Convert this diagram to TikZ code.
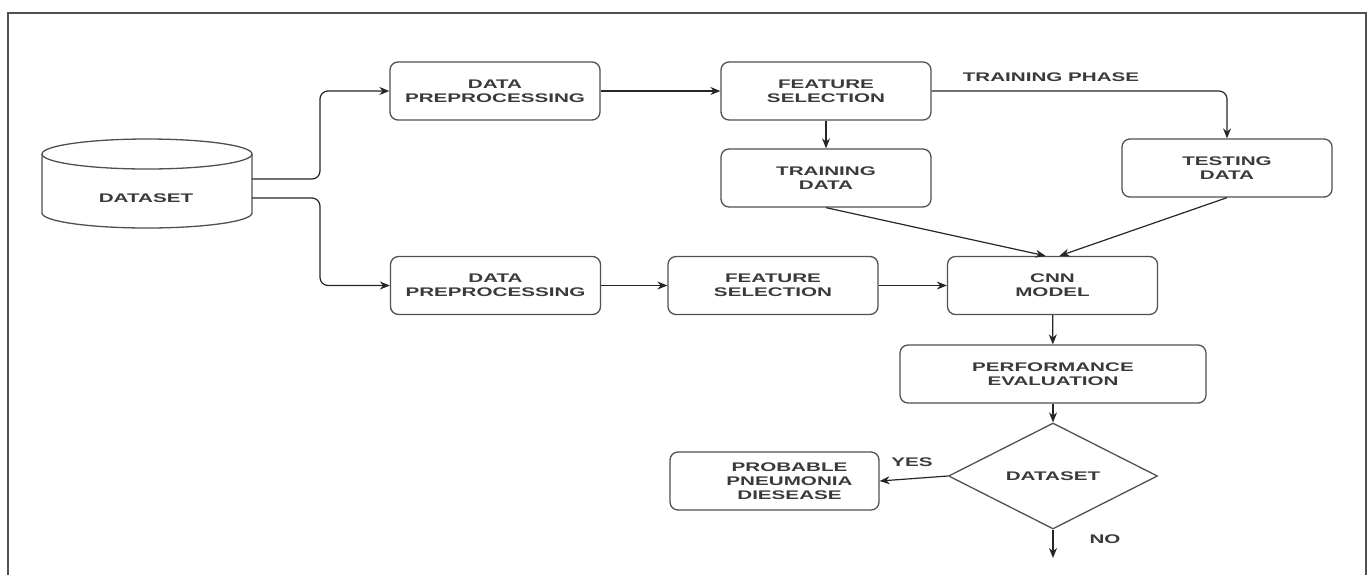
\documentclass[tikz,border=0pt]{standalone}
\usepackage{fontspec}
\usetikzlibrary{arrows.meta,shapes.geometric,calc}
\newfontfamily\dfont{Liberation Sans Bold}[FakeStretch=1.65]
\definecolor{txt}{HTML}{3A3A3A}
\definecolor{edge}{HTML}{505050}
\begin{document}
\begin{tikzpicture}[x=1pt,y=-1pt,
  every node/.style={font=\dfont\fontsize{12.5}{14}\selectfont, text=txt, align=center},
  box/.style={draw=edge, line width=1.3pt, rounded corners=8pt, minimum width=210pt, minimum height=58pt, inner sep=0pt},
  dia/.style={draw=edge, line width=1.3pt, diamond, aspect=1.97, minimum width=209pt, minimum height=106pt, inner sep=0pt},
  arr/.style={draw=black!85, line width=1.2pt, -{Stealth[length=10pt,width=8pt]}},
  lbl/.style={inner sep=0pt}]
\useasboundingbox (0,0) rectangle (1372,574);
% frame
\draw[edge, line width=2pt] (8,580) -- (8,13) -- (1366,13) -- (1366,580);
% cylinder
\node[minimum width=210pt, minimum height=89pt, inner sep=0pt] (ds) at (147,183.5) {};
\node[lbl] (dstxt) at (146,198) {DATASET};
\draw[edge, line width=1.3pt] (147,154) ellipse [x radius=105pt, y radius=15pt];
\draw[edge, line width=1.3pt] (42,154) -- (42,213) arc[start angle=180, end angle=360, x radius=105pt, y radius=15pt] -- (252,154);
\coordinate (dsU) at (252,179);
\coordinate (dsL) at (252,198);
% boxes
\node[box] (dp1) at (495,91) {DATA\\PREPROCESSING};
\node[box] (fs1) at (826,91) {FEATURE\\SELECTION};
\node[box] (trd) at (826,178) {TRAINING\\DATA};
\node[box] (tsd) at (1227,168) {TESTING\\DATA};
\node[box] (dp2) at (495.5,285.5) {DATA\\PREPROCESSING};
\node[box] (fs2) at (773,285.5) {FEATURE\\SELECTION};
\node[box] (cnn) at (1052.5,285.5) {CNN\\MODEL};
\node[box, minimum width=306pt] (pe) at (1053,374) {PERFORMANCE\\EVALUATION};
\node[dia] (dd) at (1053,476) {DATASET};
\node[box, minimum width=209pt] (prob) at (774.5,481) {\hspace*{30pt}PROBABLE\\\hspace*{30pt}PNEUMONIA\\\hspace*{30pt}DIESEASE};
% connectors
\draw[arr, rounded corners=8pt] (dsU) -- (320,179) |- (dp1.west);
\draw[arr, rounded corners=8pt] (dsL) -- (320,198) |- (dp2.west);
\draw[arr] (dp1) -- (fs1);
\draw[arr] (fs1) -- (trd);
\draw[arr, rounded corners=8pt] (fs1.east) -| (tsd.north);
\node[lbl] (tp) at (1051,77) {TRAINING PHASE};
\coordinate (cnnA) at ($(cnn.north)+(-7,0)$);
\coordinate (cnnB) at ($(cnn.north)+(7,0)$);
\draw[arr] (trd.south) -- (cnnA);
\draw[arr] (tsd.south) -- (cnnB);
\draw[arr] (dp2) -- (fs2);
\draw[arr] (fs2) -- (cnn);
\draw[arr] (cnn) -- (pe);
\draw[arr] (pe) -- (dd);
\draw[arr] (dd.west) -- (prob.east);
\node[lbl] (yes) at (912,462) {YES};
\coordinate (noEnd) at (1053,558);
\draw[arr] (dd.south) -- (noEnd);
\node[lbl] (no) at (1105,539) {NO};
\end{tikzpicture}
\end{document}
